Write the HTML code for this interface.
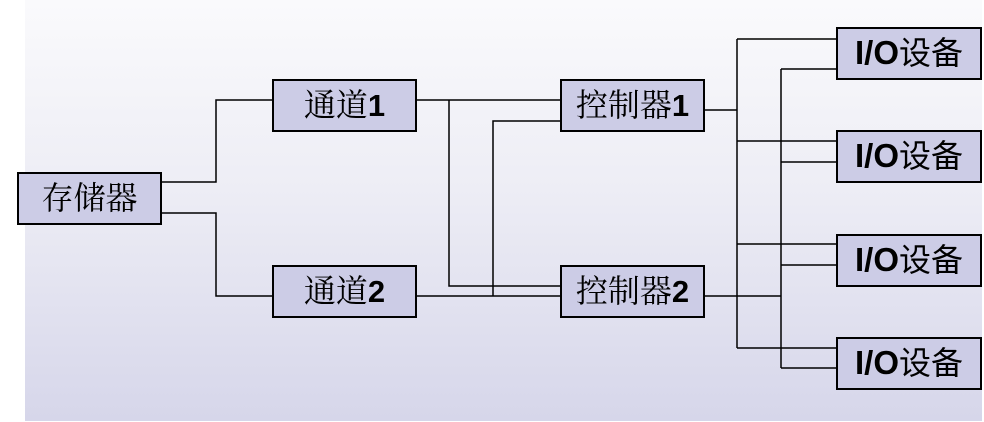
<!DOCTYPE html>
<html><head><meta charset="utf-8"><style>
html,body{margin:0;padding:0;background:#fff;}
body{width:984px;height:422px;position:relative;overflow:hidden;}
#bg{position:absolute;left:25px;top:0;width:957px;height:421px;background:linear-gradient(#fafafc,#ededf5 45%,#d6d6ea);}
.b{position:absolute;box-sizing:border-box;border:2px solid #000;background:#cccce6;font-family:"Liberation Serif","Noto Serif CJK SC","Noto Serif CJK JP",serif;font-size:32px;line-height:48px;text-align:center;color:#000;white-space:nowrap;}
.b b{font-family:"Liberation Sans",sans-serif;font-weight:bold;font-size:31px;}
.io{font-family:"Liberation Sans","Noto Sans CJK SC",sans-serif;font-size:32px;}
.io b{font-size:33px;}
svg{position:absolute;left:0;top:0;}
</style></head><body>
<div id="bg"></div>
<svg width="984" height="422" stroke="#000" stroke-width="1.5" fill="none">
<polyline points="161,182 216,182 216,100 273,100"/>
<polyline points="161,213 216,213 216,296 273,296"/>
<line x1="416" y1="100" x2="560" y2="100"/>
<polyline points="449,100 449,286 560,286"/>
<line x1="416" y1="296" x2="560" y2="296"/>
<polyline points="493,296 493,121 560,121"/>
<line x1="704" y1="110" x2="737" y2="110"/>
<line x1="737" y1="39" x2="737" y2="348"/>
<line x1="737" y1="39" x2="837" y2="39"/>
<line x1="737" y1="141" x2="837" y2="141"/>
<line x1="737" y1="244" x2="837" y2="244"/>
<line x1="737" y1="348" x2="837" y2="348"/>
<line x1="704" y1="296" x2="781" y2="296"/>
<line x1="781" y1="69" x2="781" y2="368"/>
<line x1="781" y1="69" x2="837" y2="69"/>
<line x1="781" y1="162" x2="837" y2="162"/>
<line x1="781" y1="265" x2="837" y2="265"/>
<line x1="781" y1="368" x2="837" y2="368"/>
</svg>
<div class="b" style="left:17px;top:172px;width:145px;height:53px;">存储器</div>
<div class="b" style="left:272px;top:79px;width:145px;height:53px;">通道<b>1</b></div>
<div class="b" style="left:272px;top:265px;width:145px;height:53px;">通道<b>2</b></div>
<div class="b" style="left:560px;top:79px;width:145px;height:53px;">控制器<b>1</b></div>
<div class="b" style="left:560px;top:265px;width:145px;height:53px;">控制器<b>2</b></div>
<div class="b io" style="left:836px;top:27px;width:146px;height:53px;"><b>I/O</b>设备</div>
<div class="b io" style="left:836px;top:130px;width:146px;height:53px;"><b>I/O</b>设备</div>
<div class="b io" style="left:836px;top:234px;width:146px;height:53px;"><b>I/O</b>设备</div>
<div class="b io" style="left:836px;top:337px;width:146px;height:53px;"><b>I/O</b>设备</div>
</body></html>
